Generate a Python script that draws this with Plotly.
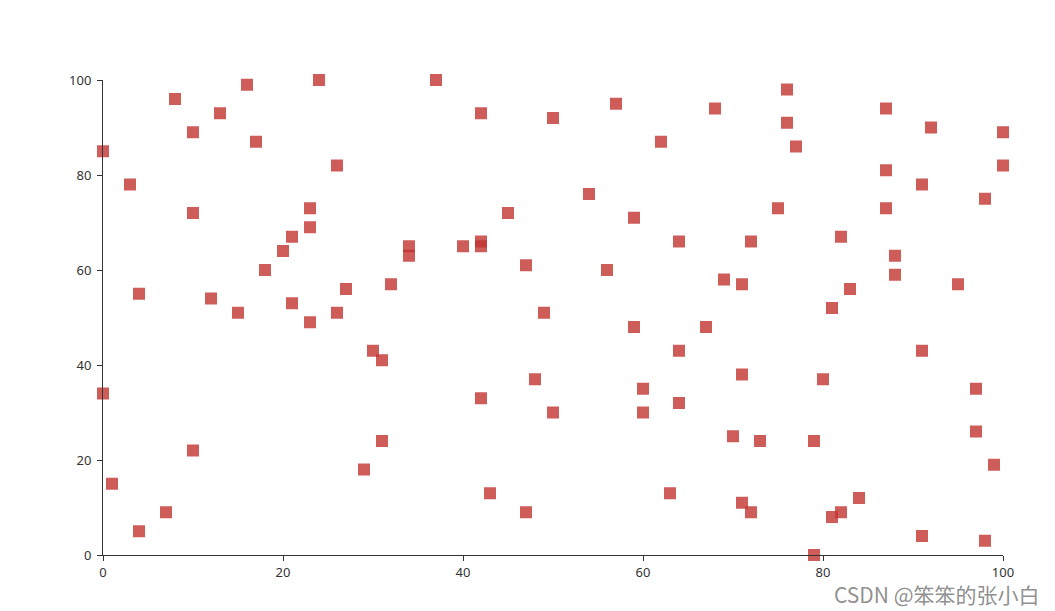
import plotly.graph_objects as go

x_vals = [0, 0, 1, 3, 4, 4, 7, 8, 10, 10, 10, 12, 13, 15, 16, 17, 18, 20, 21, 21,
          23, 23, 23, 24, 26, 26, 27, 29, 30, 31, 31, 32, 34, 34, 37, 40, 42, 42, 42, 42,
          43, 45, 47, 47, 48, 49, 50, 50, 54, 56, 57, 59, 59, 60, 60, 62, 63, 64, 64, 64,
          67, 68, 69, 70, 71, 71, 71, 72, 72, 73, 75, 76, 76, 77, 79, 79, 80, 81, 81, 82,
          82, 83, 84, 87, 87, 87, 88, 88, 91, 91, 91, 92, 95, 97, 97, 98, 98, 99, 100, 100]
y_vals = [85, 34, 15, 78, 55, 5, 9, 96, 89, 72, 22, 54, 93, 51, 99, 87, 60, 64, 67, 53,
          73, 69, 49, 100, 82, 51, 56, 18, 43, 41, 24, 57, 65, 63, 100, 65, 93, 66, 65, 33,
          13, 72, 61, 9, 37, 51, 92, 30, 76, 60, 95, 71, 48, 35, 30, 87, 13, 66, 43, 32,
          48, 94, 58, 25, 57, 38, 11, 66, 9, 24, 73, 98, 91, 86, 24, 0, 37, 52, 8, 67,
          9, 56, 12, 94, 81, 73, 63, 59, 78, 43, 4, 90, 57, 35, 26, 75, 3, 19, 89, 82]

watermark = "CSDN @笨笨的张小白"

fig = go.Figure()
fig.add_trace(go.Scatter(
    x=x_vals, y=y_vals, mode="markers",
    marker=dict(symbol="square", size=12, color="rgba(194,53,49,0.8)", line=dict(width=0)),
    cliponaxis=False, hoverinfo="x+y", showlegend=False,
))

axis_common = dict(
    range=[0, 100], dtick=20, showgrid=False, zeroline=False,
    showline=True, linecolor="#333", linewidth=1,
    ticks="outside", ticklen=5, tickcolor="#333", tickwidth=1,
    tickfont=dict(family="Noto Sans, DejaVu Sans, sans-serif", size=13, color="#333"),
    fixedrange=True, automargin=False,
)
fig.update_xaxes(**axis_common)
fig.update_yaxes(**axis_common, ticklabelstandoff=3)

fig.add_annotation(
    text=watermark, xref="paper", yref="paper", x=1.042, y=-0.082,
    xanchor="right", yanchor="middle", showarrow=False, borderpad=0,
    font=dict(family="Noto Sans CJK SC, sans-serif", size=21, color="rgba(130,130,130,0.9)"),
)

fig.update_layout(
    width=1047, height=603,
    margin=dict(l=95, r=52, t=72, b=56),
    paper_bgcolor="white", plot_bgcolor="white",
)

fig.write_html("out.html")
